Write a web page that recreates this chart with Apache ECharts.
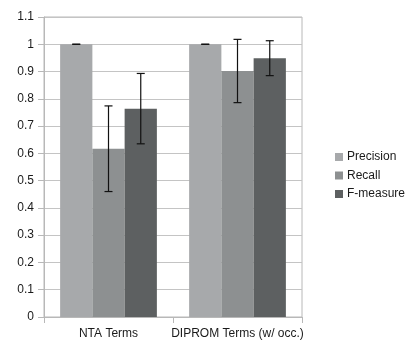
<!DOCTYPE html>
<html>
<head>
<meta charset="utf-8">
<script src="https://cdn.jsdelivr.net/npm/echarts@6/dist/echarts.min.js"></script>
<style>
html,body{margin:0;padding:0;background:#fff;}
#chart{width:407px;height:343px;}
</style>
</head>
<body>
<div id="chart"></div>
<script>
var categories = ['NTA Terms', 'DIPROM Terms (w/ occ.)'];
var seriesNames = ['Precision', 'Recall', 'F-measure'];
var precision = [1.0, 1.0];
var recall = [0.617, 0.902];
var fmeasure = [0.764, 0.949];
var precisionErr = [0, 0];
var recallErr = [0.157, 0.116];
var fmeasureErr = [0.129, 0.064];
var yTicks = [0, 0.1, 0.2, 0.3, 0.4, 0.5, 0.6, 0.7, 0.8, 0.9, 1, 1.1];

var colors = ['#a7a9ab', '#8d9091', '#5d6061'];
var values = [precision, recall, fmeasure];
var errs = [precisionErr, recallErr, fmeasureErr];
var FONT = 'Liberation Sans, Arial, sans-serif';
var barFrac = 0.75;

var errData = [];
for (var s = 0; s < 3; s++) {
  for (var c = 0; c < categories.length; c++) {
    errData.push([c, values[s][c], errs[s][c], s]);
  }
}

var chart = echarts.init(document.getElementById('chart'), null, {renderer: 'canvas'});
var option = {
  animation: false,
  textStyle: {fontFamily: FONT},
  grid: {left: 44, right: 105, top: 17, bottom: 26, show: true, borderColor: '#b8b8b8', borderWidth: 1, backgroundColor: 'transparent'},
  legend: {
    orient: 'vertical', left: 330, top: 146,
    itemWidth: 8, itemHeight: 8, itemGap: 6.5,
    icon: 'rect',
    data: seriesNames,
    textStyle: {fontFamily: FONT, fontSize: 12, color: '#1a1a1a', padding: [0, 0, 0, -1]}
  },
  xAxis: {
    type: 'category', data: categories,
    axisLine: {show: true, lineStyle: {color: '#b8b8b8', width: 1}},
    axisTick: {show: true, length: 6, alignWithLabel: false, lineStyle: {color: '#b8b8b8'}},
    axisLabel: {fontFamily: FONT, fontSize: 12, color: '#1a1a1a', margin: 11, interval: 0}
  },
  yAxis: {
    type: 'value', min: 0, max: 1.1, interval: 0.1,
    axisLine: {show: true, lineStyle: {color: '#b8b8b8', width: 1}},
    axisTick: {show: true, length: 6, lineStyle: {color: '#b8b8b8'}},
    splitLine: {show: true, lineStyle: {color: '#c4c4c4', width: 1}},
    axisLabel: {fontFamily: FONT, fontSize: 12, color: '#1a1a1a', margin: 10,
      formatter: function (v) { return String(Math.round(v * 10) / 10); }}
  },
  series: [
    {name: seriesNames[0], type: 'bar', data: precision, itemStyle: {color: colors[0]}, barGap: 0, barCategoryGap: '25%'},
    {name: seriesNames[1], type: 'bar', data: recall, itemStyle: {color: colors[1]}, barGap: 0, barCategoryGap: '25%'},
    {name: seriesNames[2], type: 'bar', data: fmeasure, itemStyle: {color: colors[2]}, barGap: 0, barCategoryGap: '25%'},
    {
      type: 'custom', name: 'err', z: 10,
      data: errData,
      renderItem: function (params, api) {
        var c = api.value(0), v = api.value(1), e = api.value(2), s = api.value(3);
        var bandW = api.size([1, 0])[0];
        var bw = bandW * barFrac / 3;
        var center = api.coord([c, v]);
        var x = center[0] + (s - 1) * bw;
        var yHi = api.coord([c, v + e])[1];
        var yLo = api.coord([c, v - e])[1];
        var cap = 4;
        var st = {stroke: '#111', lineWidth: 1.2};
        return {
          type: 'group',
          children: [
            {type: 'line', shape: {x1: x, y1: yHi, x2: x, y2: yLo}, style: st},
            {type: 'line', shape: {x1: x - cap, y1: yHi, x2: x + cap, y2: yHi}, style: st},
            {type: 'line', shape: {x1: x - cap, y1: yLo, x2: x + cap, y2: yLo}, style: st}
          ]
        };
      }
    }
  ]
};
chart.setOption(option);
</script>
</body>
</html>
